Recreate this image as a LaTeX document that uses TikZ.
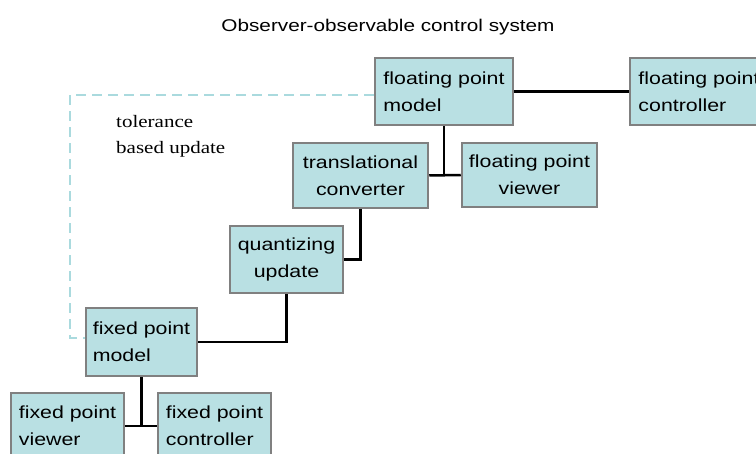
\documentclass[tikz,border=0pt]{standalone}
\usepackage{fontspec}
\setmainfont{Liberation Serif}[FakeStretch=1.2]
\setsansfont{Liberation Sans}[FakeStretch=1.22]
\definecolor{boxfill}{RGB}{185,224,227}
\definecolor{boxline}{RGB}{128,128,128}
\definecolor{dashcol}{RGB}{170,218,222}
\tikzset{
  box/.style={draw=boxline, fill=boxfill, line width=2.5pt, rectangle,
    inner xsep=6pt, inner ysep=0pt, font=\sffamily\fontsize{17.5}{27}\selectfont},
  link/.style={draw=black, line width=2.5pt},
  dashline/.style={draw=dashcol, line width=2.8pt, dash pattern=on 10pt off 6pt},
}
\begin{document}
\begin{tikzpicture}[x=1pt,y=-1pt]
\clip (0,0) rectangle (756,454);
\fill[white] (0,0) rectangle (756,454);
\node[font=\sffamily\fontsize{17}{25}\selectfont, anchor=base, inner sep=0pt] (title) at (388,32) {Observer-observable control system};
% nodes
\node[box, minimum width=138pt, minimum height=67pt, align=left] (fpm) at (444,91.5) {floating point\\model};
\node[box, minimum width=138pt, minimum height=67pt, align=left] (fpc) at (699,91.5) {floating point\\controller};
\node[box, minimum width=135pt, minimum height=65pt, align=center] (tc) at (360.5,175.5) {translational\\converter};
\node[box, minimum width=135pt, minimum height=64pt, align=center] (fpv) at (529.5,175) {floating point\\viewer};
\node[box, minimum width=113pt, minimum height=67pt, align=center] (qu) at (286.5,259.5) {quantizing\\update};
\node[box, minimum width=111pt, minimum height=68pt, align=left] (fxm) at (141.5,342) {fixed point\\model};
\node[box, minimum width=113pt, minimum height=66pt, align=left] (fxv) at (67.5,426) {fixed point\\viewer};
\node[box, minimum width=113pt, minimum height=66pt, align=left] (fxc) at (214.5,426) {fixed point\\controller};
\node[font=\rmfamily\fontsize{17.5}{26}\selectfont, anchor=base west, align=left, inner sep=0pt] (tol) at (116,154) {tolerance\\based update};
% connectors
\coordinate (j1) at (fpm.south |- fpv.west);
\coordinate (j2) at (fxm.south |- fxv.east);
\draw[link] (fpm.east) -- (fpc.west);
\draw[link] (fpm.south) -- (j1);
\draw[link] (tc.east) -- (fpv.west);
\draw[link] (tc.south) |- (qu.east);
\draw[link] (qu.south) |- (fxm.east);
\draw[link] (fxm.south) -- (j2);
\draw[link] (fxv.east) -- (fxc.west);
% dashed feedback
\coordinate (d1) at (70,95);
\coordinate (d2) at (70,338);
\draw[dashline] (fpm.west |- d1) -- (d1) -- (d2) -- (fxm.west |- d2);
\end{tikzpicture}
\end{document}
